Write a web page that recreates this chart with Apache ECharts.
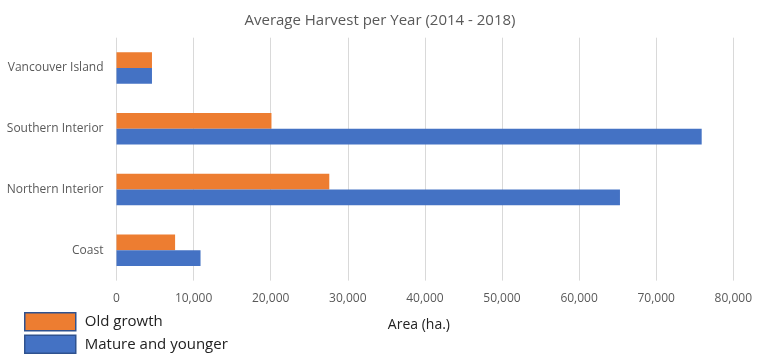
<!DOCTYPE html>
<html>
<head>
<meta charset="utf-8">
<script src="https://cdn.jsdelivr.net/npm/echarts@6/dist/echarts.min.js"></script>
<style>html,body{margin:0;padding:0;background:#fff;}#c{width:760px;height:360px;}</style>
</head>
<body>
<div id="c"></div>
<script>
const categories = ['Coast', 'Northern Interior', 'Southern Interior', 'Vancouver Island'];
const oldGrowth = [7600, 27600, 20100, 4600];
const matureYounger = [10900, 65300, 75900, 4600];
const xTicks = [0, 10000, 20000, 30000, 40000, 50000, 60000, 70000, 80000];

const chart = echarts.init(document.getElementById('c'), null, {renderer: 'canvas'});
const font = '"Open Sans", "Noto Sans", sans-serif';
chart.setOption({
  animation: false,
  backgroundColor: '#fff',
  title: {
    text: 'Average Harvest per Year (2014 - 2018)',
    left: 'center', top: 8,
    textStyle: {fontFamily: font, fontSize: 15, fontWeight: 'normal', color: '#595959'}
  },
  legend: {
    orient: 'vertical', left: 24, top: 312, padding: 0, height: 48,
    itemWidth: 51, itemHeight: 18, itemGap: 3,
    textStyle: {fontFamily: font, fontSize: 15, color: '#222', lineHeight: 18, padding: [0, 0, 0, 4]},
    data: [
      {name: 'Old growth', icon: 'rect', itemStyle: {borderColor: '#2F528F', borderWidth: 1.5}},
      {name: 'Mature and younger', icon: 'rect', itemStyle: {borderColor: '#2F528F', borderWidth: 1.5}}
    ]
  },
  grid: {left: 116.5, right: 26.7, top: 37.7, bottom: 79.4, containLabel: false},
  xAxis: {
    type: 'value', min: xTicks[0], max: xTicks[xTicks.length - 1], interval: 10000,
    name: 'Area (ha.)', nameLocation: 'middle', nameGap: 37,
    nameTextStyle: {fontFamily: font, fontSize: 14, color: '#222', padding: [0, 12, 0, 0]},
    axisLine: {show: false}, axisTick: {show: false},
    axisLabel: {fontFamily: font, fontSize: 12, color: '#595959', margin: 12,
      formatter: v => v.toLocaleString('en-US')},
    splitLine: {show: true, lineStyle: {color: '#d9d9d9', width: 1}}
  },
  yAxis: {
    type: 'category', data: categories,
    axisLine: {show: false}, axisTick: {show: false},
    axisLabel: {fontFamily: font, fontSize: 12, color: '#595959', margin: 13}
  },
  series: [
    {name: 'Old growth', type: 'bar', data: oldGrowth, itemStyle: {color: '#ED7D31'},
      barGap: '0%', barCategoryGap: '48%'},
    {name: 'Mature and younger', type: 'bar', data: matureYounger, itemStyle: {color: '#4472C4'},
      barGap: '0%', barCategoryGap: '48%'}
  ]
});
</script>
</body>
</html>
